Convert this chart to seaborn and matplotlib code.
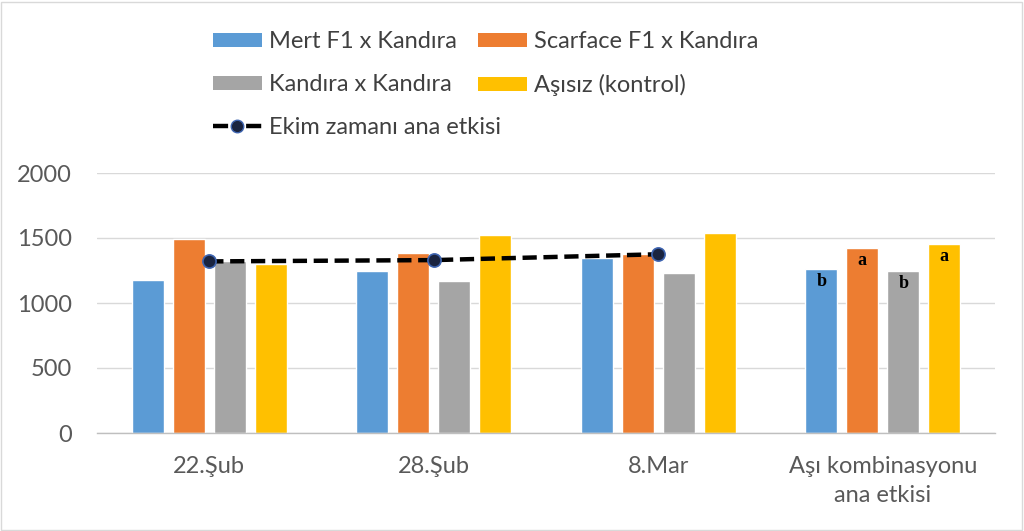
import matplotlib
matplotlib.use("Agg")
import matplotlib.pyplot as plt
import seaborn as sns
import pandas as pd
import numpy as np
from matplotlib.lines import Line2D
from matplotlib.patches import Patch, Rectangle

categories = ["22.Şub", "28.Şub", "8.Mar", "Aşı kombinasyonu\nana etkisi"]
series_names = ["Mert F1 x Kandıra", "Scarface F1 x Kandıra", "Kandıra x Kandıra", "Aşısız (kontrol)"]
mert = [1180, 1245, 1345, 1260]
scarface = [1495, 1385, 1375, 1422]
kandira = [1320, 1170, 1228, 1243]
asisiz = [1300, 1525, 1542, 1455]
line_name = "Ekim zamanı ana etkisi"
line_vals = [1320, 1330, 1375]
letters = [["b", "a", "b", "a"]]  # letters for last category
yticks = [0, 500, 1000, 1500, 2000]

colors = ["#5B9BD5", "#ED7D31", "#A5A5A5", "#FFC000"]

sns.set_theme(style="white")
plt.rcParams["font.family"] = ["Lato", "DejaVu Sans"]

df = pd.DataFrame({
    "cat": categories * 4,
    "series": np.repeat(series_names, 4),
    "val": mert + scarface + kandira + asisiz,
})

fig = plt.figure(figsize=(10.24, 5.31), dpi=100)
ax = fig.add_axes([97 / 1024, 1 - 433 / 531, 898 / 1024, 260 / 531])

sns.barplot(data=df, x="cat", y="val", hue="series", order=categories,
            hue_order=series_names, palette=colors, width=0.73, gap=0.22,
            saturation=1, legend=False, ax=ax, errorbar=None)

sns.lineplot(x=np.arange(len(line_vals)), y=line_vals, ax=ax, color="black",
             linewidth=3.2, linestyle=(0, (3.2, 1.5)), marker="o", markersize=9.5,
             markerfacecolor="#1a2440", markeredgecolor="#3e64b0", markeredgewidth=1.2,
             zorder=5)

# letters on last group
bars_last = [c.patches[3] for c in ax.containers]
for bar, lt in zip(bars_last, letters[0]):
    ax.text(bar.get_x() + bar.get_width() / 2, bar.get_height() - 95, lt,
            ha="center", va="center", fontsize=13, fontweight="bold",
            family="Liberation Serif", color="black", zorder=6)

ax.set_ylim(0, 2000)
ax.set_xlim(-0.5, 3.5)
ax.set_yticks(yticks)
ax.set_xticks(range(len(categories)))
ax.set_xticklabels(categories)
ax.yaxis.grid(True, color="#d9d9d9", linewidth=1)
ax.set_axisbelow(True)
for s in ["top", "right", "left"]:
    ax.spines[s].set_visible(False)
ax.spines["bottom"].set_color("#bfbfbf")
ax.spines["bottom"].set_linewidth(1)
ax.tick_params(axis="both", length=0, labelsize=17, labelcolor="#595959")
ax.tick_params(axis="y", pad=18)
ax.tick_params(axis="x", pad=16.5)
ax.set_xlabel("")
ax.set_ylabel("")

handles = [Patch(facecolor=c, edgecolor="none") for c in colors]
handles.append(Line2D([0], [0], color="black", linewidth=3.2, linestyle=(0, (3.4, 4.05)),
                      marker="o", markersize=9, markerfacecolor="#1a2440",
                      markeredgecolor="#3e64b0"))
labels = series_names + [line_name]
order = [0, 2, 4, 1, 3]
leg = fig.legend([handles[i] for i in order], [labels[i] for i in order],
                 ncol=2, loc="upper left", bbox_to_anchor=(192 / 1024, 1 - 10 / 531),
                 frameon=False, fontsize=17, handlelength=2.05, handleheight=0.55,
                 handletextpad=0.3, columnspacing=-0.95, labelspacing=0.93,
                 labelcolor="#404040")

fig.patches.append(Rectangle((0.001, 0.002), 0.997, 0.995, transform=fig.transFigure,
                             fill=False, edgecolor="#d9d9d9", linewidth=1))

fig.canvas.draw()
for t in ax.xaxis.get_major_ticks():
    t.label1.set_linespacing(1.45)

fig.savefig("out.png", dpi=100)
